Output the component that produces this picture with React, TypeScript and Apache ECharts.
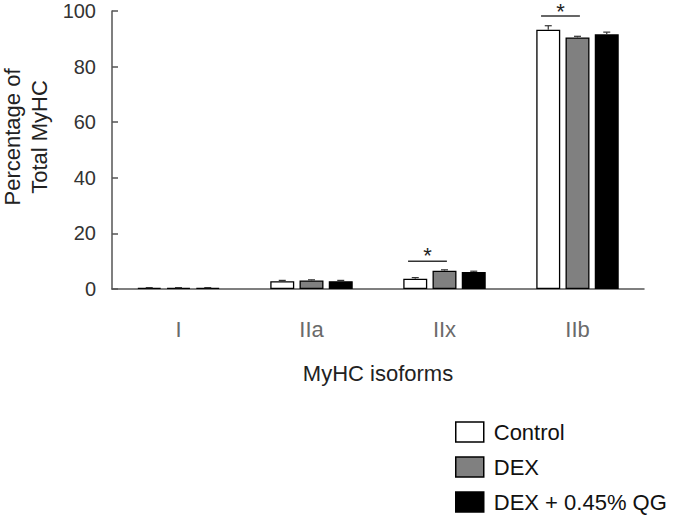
import React, { useEffect, useRef } from "react";
import * as echarts from "echarts";

const categories = ["I", "IIa", "IIx", "IIb"];
const seriesNames = ["Control", "DEX", "DEX + 0.45% QG"];
const controlValues = [0.4, 2.8, 3.7, 93.3];
const dexValues = [0.4, 3.1, 6.6, 90.5];
const qgValues = [0.4, 2.8, 6.1, 91.6];
const controlErr = [0.1, 0.3, 0.4, 1.4];
const dexErr = [0.1, 0.2, 0.3, 0.4];
const qgErr = [0.1, 0.3, 0.3, 0.8];
const barColors = ["#ffffff", "#808080", "#000000"];
// significance: [category index, line value, star top value]
const significance = [
  [2, 10.0, 15.9],
  [3, 98.2, 103.6],
];

const FONT = "'Liberation Sans', Arial, sans-serif";
const CAT_GAP = 0.38;
const BAR_GAP = 0.22;

function barGeom(api: any) {
  const band = api.size([1, 0])[0];
  const w = (band * (1 - CAT_GAP)) / (3 + 2 * BAR_GAP);
  return { w, step: w * (1 + BAR_GAP) };
}

export default function App() {
  const ref = useRef<HTMLDivElement>(null);
  useEffect(() => {
    if (!ref.current) return;
    const chart = echarts.init(ref.current, null, { renderer: "svg" });
    const values = [controlValues, dexValues, qgValues];
    const errs = [controlErr, dexErr, qgErr];
    const errData: any[] = [];
    values.forEach((arr, s) =>
      arr.forEach((v, i) => errData.push([i, v, errs[s][i], s]))
    );
    chart.setOption({
      animation: false,
      grid: { left: 112, right: 41, top: 11, bottom: 232, containLabel: false },
      legend: {
        orient: "vertical",
        left: 455,
        top: 421,
        width: 230,
        height: 110,
        padding: 0,
        itemWidth: 28,
        itemHeight: 20,
        itemGap: 13,
        icon: "rect",
        data: seriesNames,
        itemStyle: { borderColor: "#000", borderWidth: 1.5 },
        textStyle: { fontFamily: FONT, fontSize: 22, color: "#111", padding: [0, 0, 0, 5] },
      },
      xAxis: {
        type: "category",
        data: categories,
        name: "MyHC isoforms",
        nameLocation: "middle",
        nameGap: 73,
        nameTextStyle: { fontFamily: FONT, fontSize: 22, color: "#222" },
        axisLine: { lineStyle: { color: "#555", width: 1.5 } },
        axisTick: { inside: true, length: 6, lineStyle: { color: "#555", width: 1.5 } },
        axisLabel: { fontFamily: FONT, fontSize: 22, color: "#6a6a6a", margin: 29, interval: 0 },
      },
      yAxis: {
        type: "value",
        min: 0,
        max: 100,
        interval: 20,
        axisLine: { show: true, lineStyle: { color: "#555", width: 1.5 } },
        axisTick: { show: true, inside: true, length: 6, lineStyle: { color: "#555", width: 1.5 } },
        axisLabel: { fontFamily: FONT, fontSize: 20, color: "#333", margin: 16 },
        splitLine: { show: false },
      },
      graphic: [
        {
          type: "text",
          x: 26,
          y: 137,
          rotation: Math.PI / 2,
          style: {
            text: "Percentage of\nTotal MyHC",
            fontFamily: FONT,
            fontSize: 22,
            lineHeight: 27,
            fill: "#222",
            align: "center",
            verticalAlign: "middle",
          },
        },
      ],
      series: [
        ...seriesNames.map((name, s) => ({
          name,
          type: "bar",
          data: values[s],
          barGap: BAR_GAP * 100 + "%",
          barCategoryGap: CAT_GAP * 100 + "%",
          itemStyle: { color: barColors[s], borderColor: "#000", borderWidth: 1.3 },
        })),
        {
          type: "custom",
          name: "err",
          data: errData,
          encode: { x: 0, y: 1 },
          z: 5,
          renderItem: (params: any, api: any) => {
            const cat = api.value(0);
            const v = api.value(1);
            const e = api.value(2);
            const s = api.value(3);
            const { step } = barGeom(api);
            const top = api.coord([cat, v + e]);
            const base = api.coord([cat, v]);
            const x = top[0] + (s - 1) * step;
            const style = { stroke: "#333", lineWidth: 1.2 };
            return {
              type: "group",
              children: [
                { type: "line", shape: { x1: x, y1: base[1], x2: x, y2: top[1] }, style },
                { type: "line", shape: { x1: x - 3.5, y1: top[1], x2: x + 3.5, y2: top[1] }, style },
              ],
            };
          },
        },
        {
          type: "custom",
          name: "sig",
          data: significance,
          encode: { x: 0, y: 1 },
          z: 5,
          clip: false,
          renderItem: (params: any, api: any) => {
            const cat = api.value(0);
            const lineV = api.value(1);
            const starV = api.value(2);
            const { w, step } = barGeom(api);
            const p = api.coord([cat, lineV]);
            const ps = api.coord([cat, starV]);
            const x1 = p[0] - step - 0.3 * w;
            const x2 = p[0] + 0.1 * w;
            return {
              type: "group",
              children: [
                { type: "line", shape: { x1, y1: p[1], x2, y2: p[1] }, style: { stroke: "#333", lineWidth: 1.5 } },
                {
                  type: "text",
                  x: (x1 + x2) / 2,
                  y: ps[1],
                  style: {
                    text: "*",
                    fontFamily: FONT,
                    fontSize: 22,
                    fill: "#222",
                    align: "center",
                    verticalAlign: "top",
                  },
                },
              ],
            };
          },
        },
      ],
    });
    return () => chart.dispose();
  }, []);
  return <div ref={ref} style={{ width: 685, height: 521, position: "absolute", left: 0, top: 0 }} />;
}
